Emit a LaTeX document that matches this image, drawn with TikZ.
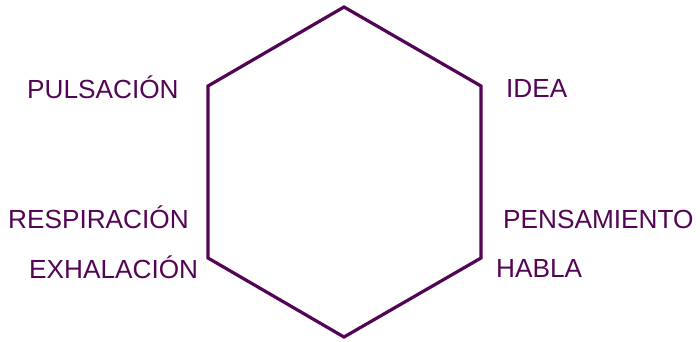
\documentclass[tikz,border=0pt]{standalone}
\usepackage{fontspec}
\setmainfont{Liberation Sans}
\usepackage{xcolor}
\usetikzlibrary{positioning}
\definecolor{hexpurple}{RGB}{84,4,84}
\tikzset{
  word/.style={anchor=base west, inner sep=0pt, text=hexpurple,
    font=\fontsize{26.2}{29}\selectfont},
  hexline/.style={draw=hexpurple, line width=3.2pt, line join=miter}
}

\begin{document}
\begin{tikzpicture}[x=1pt,y=-1pt]
    \useasboundingbox (0,0) rectangle (700,341);
    % corners of the hexagon
    \coordinate (top) at (344,7);
    \coordinate (ur) at (481,86);
    \coordinate (lr) at (481,258);
    \coordinate (bot) at (344,337);
    \coordinate (ll) at (208,258);
    \coordinate (ul) at (208,86);
    \draw[hexline] (top) -- (ur) -- (lr) -- (bot) -- (ll) -- (ul) -- cycle;
    % words round it
    \node[word] (puls) at (27,98) {PULSACIÓN};
    \node[word] (idea) at (506,97) {IDEA};
    \node[word] (resp) at (8,228) {RESPIRACIÓN};
    \node[word] (exha) at (29,278) {EXHALACIÓN};
    \node[word] (pens) at (503,228) {PENSAMIENTO};
    \node[word] (habl) at (496,277) {HABLA};
  \end{tikzpicture}
\end{document}
